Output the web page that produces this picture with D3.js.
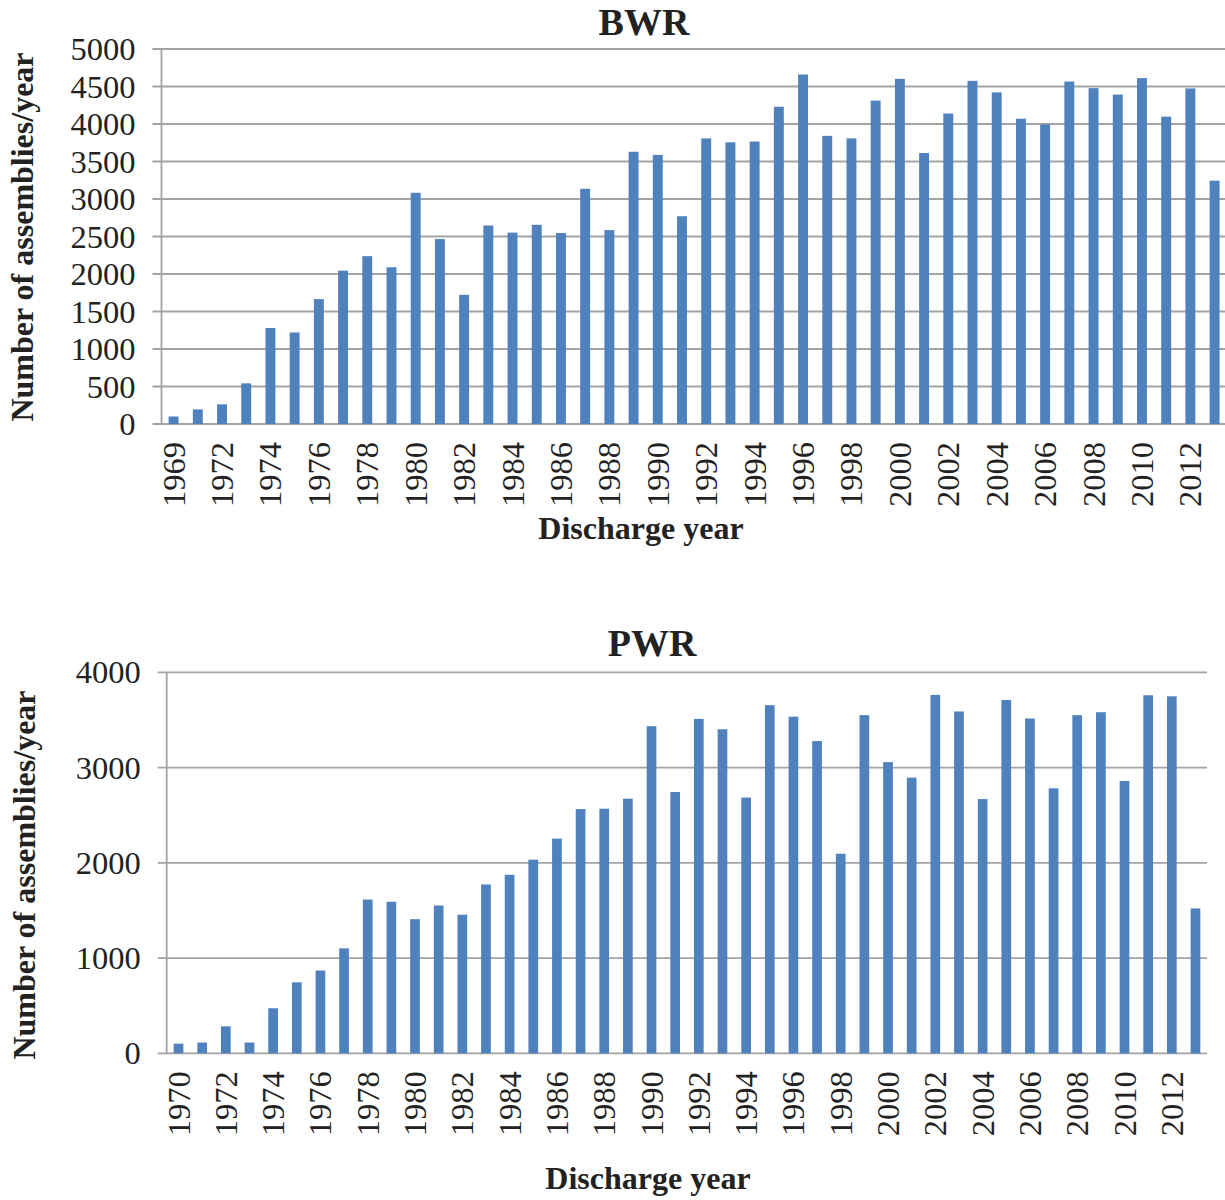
<!DOCTYPE html>
<html lang="en">
<head>
  <meta charset="UTF-8">
  <title>BWR and PWR discharged assemblies</title>
  <script src="https://d3js.org/d3.v7.min.js"></script>
  <style>
    body {
      margin: 0;
      background: #fff;
    }
    svg {
      display: block;
      font-family: "Liberation Serif", "Times New Roman", serif;
    }
    .grid line {
      stroke: #a3a3a3;
      stroke-width: 1.8px;
    }
    .bar {
      fill: #4f81bd;
    }
    .tick-label {
      font-family: "Liberation Serif", "Times New Roman", serif;
      font-size: 32.5px;
      fill: #222;
    }
    .chart-title {
      font-size: 38px;
      font-weight: bold;
      fill: #222;
    }
    .axis-title {
      font-size: 32px;
      font-weight: bold;
      fill: #222;
    }
  </style>
</head>
<body>
<svg width="1225" height="1200"></svg>

<script>
  // BWR: 1969, then 1971..2013
  const bwrYears = [1969].concat(d3.range(1971, 2014));
  const bwrValues = [
    100, 195, 262, 542, 1280, 1220, 1665, 2045, 2238, 2090,
    3083, 2466, 1722, 2647, 2552, 2656, 2547, 3136, 2585, 3630,
    3588, 2770, 3808, 3756, 3766, 4230, 4660, 3842, 3808, 4312,
    4602, 3613, 4140, 4575, 4422, 4070, 3994, 4566, 4478, 4392,
    4612, 4098, 4474, 3244
  ];
  const bwrTicks = d3.range(0, 5001, 500);
  const bwrLabelYears = [1969].concat(d3.range(1972, 2013, 2));

  // PWR: 1970..2013
  const pwrYears = d3.range(1970, 2014);
  const pwrValues = [
    101, 113, 283, 113, 473, 745, 869, 1102, 1614, 1591,
    1408, 1552, 1455, 1773, 1874, 2033, 2254, 2564, 2568, 2673,
    3434, 2743, 3511, 3402, 2685, 3655, 3534, 3278, 2095, 3550,
    3057, 2894, 3763, 3589, 2669, 3709, 3515, 2782, 3550, 3581,
    2859, 3759, 3748, 1521
  ];
  const pwrTicks = d3.range(0, 4001, 1000);
  const pwrLabelYears = d3.range(1970, 2013, 2);

  const svg = d3.select("svg");

  function drawChart(opt) {
    const g = svg.append("g");

    const x = d3.scaleBand()
      .domain(opt.years)
      .range([opt.left, opt.right])
      .paddingInner(0.59)
      .paddingOuter(0.295);

    const y = d3.scaleLinear()
      .domain([0, opt.max])
      .range([opt.bottom, opt.top]);

    // gridlines (with the small stub left of the axis)
    g.append("g").attr("class", "grid")
      .selectAll("line")
      .data(opt.ticks)
      .join("line")
      .attr("x1", opt.left - 9)
      .attr("x2", opt.gridEnd)
      .attr("y1", d => y(d))
      .attr("y2", d => y(d));

    // vertical axis line
    g.append("g").attr("class", "grid")
      .append("line")
      .attr("x1", opt.left).attr("x2", opt.left)
      .attr("y1", y(opt.max)).attr("y2", y(0));

    g.selectAll(".bar")
      .data(opt.years)
      .join("rect")
      .attr("class", "bar")
      .attr("x", d => x(d))
      .attr("width", x.bandwidth())
      .attr("y", (d, i) => y(opt.values[i]))
      .attr("height", (d, i) => y(0) - y(opt.values[i]));

    // y tick labels
    g.selectAll(".ylab")
      .data(opt.ticks)
      .join("text")
      .attr("class", "tick-label")
      .attr("x", opt.left - 26)
      .attr("y", d => y(d))
      .attr("dy", "0.34em")
      .attr("text-anchor", "end")
      .text(d => d);

    // x tick labels, rotated
    g.selectAll(".xlab")
      .data(opt.labelYears)
      .join("text")
      .attr("class", "tick-label")
      .attr("transform", d => `translate(${x(d) + x.bandwidth() / 2 + 11},${y(0) + 18}) rotate(-90)`)
      .attr("text-anchor", "end")
      .text(d => d);

    g.append("text")
      .attr("class", "chart-title")
      .attr("x", opt.titleX)
      .attr("y", opt.titleY)
      .attr("text-anchor", "middle")
      .text(opt.title);

    g.append("text")
      .attr("class", "axis-title")
      .attr("x", opt.xTitleX)
      .attr("y", opt.xTitleY)
      .attr("text-anchor", "middle")
      .text("Discharge year");

    g.append("text")
      .attr("class", "axis-title")
      .attr("transform", `translate(${opt.yTitleX},${opt.yTitleY}) rotate(-90)`)
      .attr("text-anchor", "middle")
      .text("Number of assemblies/year");
  }

  drawChart({
    title: "BWR",
    years: bwrYears, values: bwrValues, ticks: bwrTicks, labelYears: bwrLabelYears,
    max: 5000,
    left: 161.5, right: 1226.7, top: 49, bottom: 424, gridEnd: 1225,
    titleX: 644, titleY: 35,
    xTitleX: 641, xTitleY: 539,
    yTitleX: 33, yTitleY: 237
  });

  drawChart({
    title: "PWR",
    years: pwrYears, values: pwrValues, ticks: pwrTicks, labelYears: pwrLabelYears,
    max: 4000,
    left: 166.7, right: 1207.3, top: 672.3, bottom: 1053.3, gridEnd: 1207,
    titleX: 652, titleY: 656,
    xTitleX: 648, xTitleY: 1189,
    yTitleX: 35, yTitleY: 875
  });
</script>
</body>
</html>
